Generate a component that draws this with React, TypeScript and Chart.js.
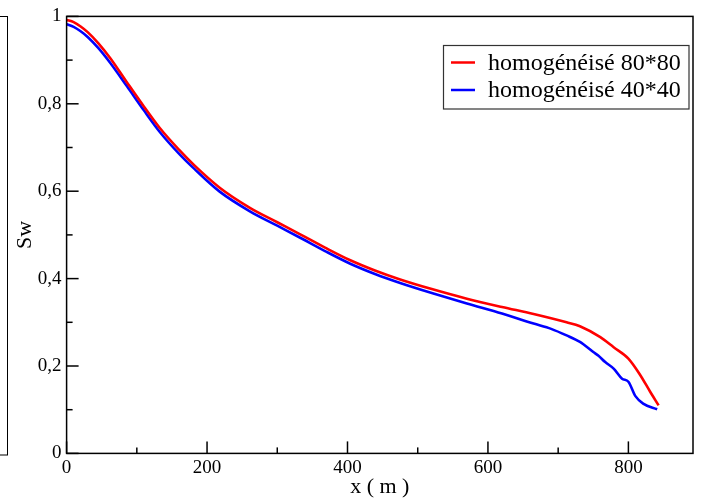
import React, { useEffect, useRef } from "react";
import { Chart, registerables } from "chart.js";

Chart.register(...registerables);

const seriesLabels = ["homogénéisé 80*80", "homogénéisé 40*40"];
const seriesColors = ["#ff0000", "#0000ff"];

const xRed = [0, 10, 20, 30, 45, 62, 86, 110, 133, 160, 182, 218, 261, 300, 332, 368, 404, 440, 475, 520, 570, 620, 665, 712, 731, 760, 779, 800, 817, 831, 843];
const yRed = [0.992, 0.987, 0.977, 0.964, 0.939, 0.905, 0.849, 0.794, 0.744, 0.695, 0.659, 0.608, 0.562, 0.529, 0.502, 0.471, 0.442, 0.418, 0.398, 0.376, 0.354, 0.335, 0.319, 0.3, 0.291, 0.266, 0.243, 0.217, 0.179, 0.141, 0.11];

const xBlue = [0, 10, 20, 30, 45, 62, 86, 110, 133, 160, 182, 218, 261, 300, 332, 368, 404, 440, 475, 520, 570, 620, 665, 690, 712, 731, 750, 757, 767, 779, 791, 800, 810, 821, 841];
const yBlue = [0.982, 0.976, 0.966, 0.953, 0.928, 0.894, 0.84, 0.785, 0.735, 0.686, 0.651, 0.599, 0.554, 0.521, 0.494, 0.463, 0.434, 0.41, 0.39, 0.367, 0.343, 0.32, 0.297, 0.285, 0.27, 0.255, 0.232, 0.224, 0.209, 0.194, 0.171, 0.164, 0.131, 0.114, 0.101];

const xTickValues = [0, 100, 200, 300, 400, 500, 600, 700, 800];
const xLabelValues = [0, 200, 400, 600, 800];
const yTickValues = [0, 0.1, 0.2, 0.3, 0.4, 0.5, 0.6, 0.7, 0.8, 0.9, 1];
const yLabels = ["0", "", "0,2", "", "0,4", "", "0,6", "", "0,8", "", "1"];

const xMin = 0;
const xMax = 892;
const yMin = 0;
const yMax = 1;

const FONT = "'Liberation Serif', 'Times New Roman', serif";

export default function App() {
  const ref = useRef<HTMLCanvasElement>(null);

  useEffect(() => {
    document.body.style.margin = "0";
    if (!ref.current) return;

    const decorPlugin = {
      id: "decor",
      afterDraw(chart: any) {
        const { ctx, chartArea: a, scales } = chart;
        ctx.save();
        const line = (x1: number, y1: number, x2: number, y2: number) => {
          ctx.beginPath();
          ctx.moveTo(x1, y1);
          ctx.lineTo(x2, y2);
          ctx.stroke();
        };
        // stray box at far left (edge of neighbouring figure)
        ctx.strokeStyle = "#000";
        ctx.lineWidth = 1;
        ctx.strokeRect(-10, 16.5, 17.5, 438.5);

        // frame
        ctx.lineWidth = 1.5;
        ctx.strokeStyle = "#000";
        ctx.strokeRect(a.left, a.top, a.right - a.left, a.bottom - a.top);

        // inward ticks
        const xs = scales.x;
        const ys = scales.y;
        xTickValues.forEach((v) => {
          const p = xs.getPixelForValue(v);
          const major = xLabelValues.includes(v);
          line(p, a.bottom, p, a.bottom - (major ? 12 : 6));
        });
        yTickValues.forEach((v, i) => {
          const p = ys.getPixelForValue(v);
          const major = yLabels[i] !== "";
          line(a.left, p, a.left + (major ? 12 : 6), p);
        });

        // legend
        const lx = 443.5, ly = 45.5, lw = 245.5, lh = 63.5;
        ctx.lineWidth = 1.2;
        ctx.strokeStyle = "#333";
        ctx.strokeRect(lx, ly, lw, lh);
        ctx.font = `24px ${FONT}`;
        ctx.textBaseline = "middle";
        ctx.textAlign = "left";
        chart.data.datasets.forEach((ds: any, i: number) => {
          const cy = 62.5 + i * 27.5;
          ctx.strokeStyle = ds.borderColor;
          ctx.lineWidth = 2.5;
          line(451, cy, 475, cy);
          ctx.fillStyle = "#000";
          ctx.fillText(ds.label, 488, cy + 1);
        });
        ctx.restore();
      },
    };

    const mk = (xs: number[], ys: number[]) => xs.map((x, i) => ({ x, y: ys[i] }));

    const chart = new Chart(ref.current, {
      type: "line",
      data: {
        datasets: [
          {
            label: seriesLabels[0],
            data: mk(xRed, yRed),
            borderColor: seriesColors[0],
            backgroundColor: seriesColors[0],
            borderWidth: 2.6,
            pointRadius: 0,
            cubicInterpolationMode: "monotone",
          },
          {
            label: seriesLabels[1],
            data: mk(xBlue, yBlue),
            borderColor: seriesColors[1],
            backgroundColor: seriesColors[1],
            borderWidth: 2.6,
            pointRadius: 0,
            cubicInterpolationMode: "monotone",
          },
        ],
      },
      options: {
        animation: false,
        responsive: false,
        layout: { padding: { top: 15, right: 8, left: 0, bottom: 0 } },
        plugins: { legend: { display: false }, tooltip: { enabled: false } },
        scales: {
          x: {
            type: "linear",
            min: xMin,
            max: xMax,
            grid: { display: false, drawTicks: false },
            border: { display: false },
            afterBuildTicks: (s: any) => {
              s.ticks = xLabelValues.map((v) => ({ value: v }));
            },
            afterFit: (s: any) => {
              s.height = 46.6;
            },
            ticks: {
              autoSkip: false,
              maxRotation: 0,
              minRotation: 0,
              padding: 3,
              color: "#000",
              font: { family: FONT, size: 19 },
              callback: (v: any) => String(Math.round(v)),
            },
            title: {
              display: true,
              text: "x ( m )",
              color: "#000",
              font: { family: FONT, size: 22 },
              padding: { top: 0, bottom: 0 },
            },
          },
          y: {
            type: "linear",
            min: yMin,
            max: yMax,
            grid: { display: false, drawTicks: false },
            border: { display: false },
            afterBuildTicks: (s: any) => {
              s.ticks = yTickValues.map((v) => ({ value: v }));
            },
            afterFit: (s: any) => {
              s.width = 66.6;
            },
            ticks: {
              autoSkip: false,
              padding: 5,
              color: "#000",
              font: { family: FONT, size: 19 },
              callback: (_v: any, i: number) => yLabels[i],
            },
            title: {
              display: true,
              text: "Sw",
              color: "#000",
              font: { family: FONT, size: 22 },
              padding: { top: 11.8, bottom: 0 },
            },
          },
        },
      },
      plugins: [decorPlugin],
    } as any);

    return () => chart.destroy();
  }, []);

  return (
    <div style={{ position: "absolute", left: 0, top: 0, width: 701, height: 500 }}>
      <canvas ref={ref} width={701} height={500} />
    </div>
  );
}
